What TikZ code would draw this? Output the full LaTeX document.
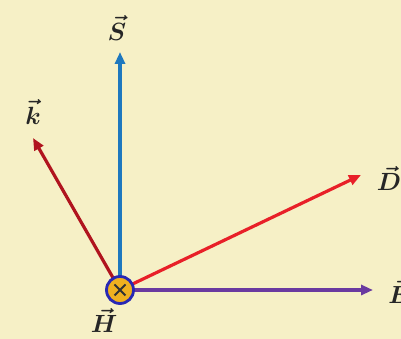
\documentclass[tikz,border=0pt]{standalone}
\usepackage{amsmath,amssymb,bm}
\usepackage{xcolor}
\usepackage{tikz}
\usetikzlibrary{arrows.meta,positioning,calc}
\definecolor{bgcream}{RGB}{246,240,198}
\definecolor{sblue}{RGB}{30,120,190}
\definecolor{kred}{RGB}{176,20,30}
\definecolor{dred}{RGB}{232,32,40}
\definecolor{epurple}{RGB}{106,58,160}
\definecolor{hring}{RGB}{40,40,180}
\definecolor{hfill}{RGB}{240,176,32}

\begin{document}
\begin{tikzpicture}[x=1pt, y=1pt,
      lbl/.style={font=\fontsize{29}{31}\selectfont, inner sep=0pt, text=black!85},
      arr/.style={-{Triangle[length=12pt,width=10pt]}, line width=3.2pt},
      hnode/.style={circle, draw=hring, line width=2.8pt, fill=hfill,
                    minimum size=27pt, inner sep=0pt,
                    path picture={\draw[line width=1.8pt, black!80]
                      ($(path picture bounding box.center)+(-5.5pt,-5.5pt)$) -- ++(11pt,11pt)
                      ($(path picture bounding box.center)+(-5.5pt,5.5pt)$) -- ++(11pt,-11pt);}}
  ]
    \fill[bgcream] (0,0) rectangle (401,339);
    \useasboundingbox (0,0) rectangle (401,339);
    \coordinate (o) at (120,49);
    \coordinate (st) at (120,287);
    \coordinate (kt) at (33,201);
    \coordinate (dt) at (361,164);
    \coordinate (et) at (373,49);
    \node[lbl] (s) at (117,311) {$\bm{\vec{S}}$};
    \node[lbl] (k) at (33,227) {$\bm{\vec{k}}$};
    \node[lbl] (d) at (389,161) {$\bm{\vec{D}}$};
    \node[lbl] (e) at (399,48) {$\bm{\vec{E}}$};
    \node[lbl] (hl) at (104,19) {$\bm{\vec{H}}$};
    \draw[arr, sblue] (o)--(st);
    \draw[arr, kred] (o)--(kt);
    \draw[arr, dred] (o)--(dt);
    \draw[arr, epurple] (o)--(et);
    \node[hnode] (h) at (o) {};
\end{tikzpicture}
\end{document}
